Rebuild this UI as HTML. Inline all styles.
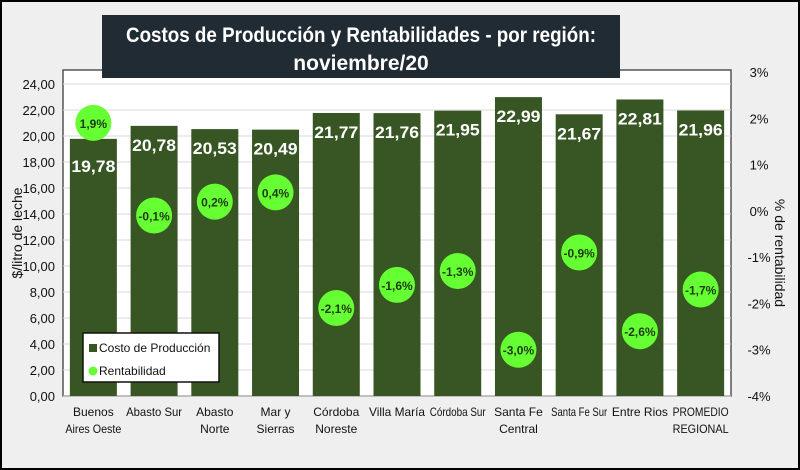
<!DOCTYPE html>
<html><head><meta charset="utf-8"><style>
html,body{margin:0;padding:0;background:#fff}
#wrap{position:relative;width:796px;height:466px;border:2px solid #000;background:#efefef;overflow:hidden}
svg text{font-family:"Liberation Sans",sans-serif}
</style></head><body>
<div id="wrap">
<svg id="chart" width="796" height="466" xmlns="http://www.w3.org/2000/svg"></svg>
</div>
<script>
const categories=[["Buenos","Aires Oeste"],["Abasto Sur"],["Abasto","Norte"],["Mar y","Sierras"],["Córdoba","Noreste"],["Villa María"],["Córdoba Sur"],["Santa Fe","Central"],["Santa Fe Sur"],["Entre Rios"],["PROMEDIO","REGIONAL"]];
const costs=[19.78,20.78,20.53,20.49,21.77,21.76,21.95,22.99,21.67,22.81,21.96];
const rent=[1.9,-0.1,0.2,0.4,-2.1,-1.6,-1.3,-3.0,-0.9,-2.6,-1.7];
const leftTicks=[0,2,4,6,8,10,12,14,16,18,20,22,24];
const rightTicks=[-4,-3,-2,-1,0,1,2,3];
const NS="http://www.w3.org/2000/svg";
const svg=document.getElementById('chart');
const off=-2;
const X0=63+off,X1=731+off,TOP=70+off,BOT=396+off;
const yL=v=>BOT-(v/24)*(BOT-84-off);
const yR=v=>BOT-((v+4)/7)*(BOT-72-off);
const cw=(X1-X0)/categories.length;
const xc=i=>X0+cw*(i+0.5);
function el(t,a,txt){const e=document.createElementNS(NS,t);for(const k in a)e.setAttribute(k,a[k]);if(txt!=null)e.textContent=txt;svg.appendChild(e);return e;}
const fmt=v=>v.toFixed(2).replace('.',',');
const pct=v=>v.toFixed(1).replace('.',',')+'%';
let p=el('rect',{x:X0,y:TOP,width:X1-X0,height:BOT-TOP,fill:'#fff',stroke:'#555','stroke-width':1.5});

leftTicks.forEach(v=>{
 let g=el('line',{x1:X0,x2:X1,y1:yL(v),y2:yL(v),stroke:'#d9d9d9','stroke-width':1});
 
 let t=el('text',{x:X0-8,y:yL(v)+5,'text-anchor':'end','font-size':13,fill:'#111'},fmt(v));
 
});
rightTicks.forEach(v=>{
 let t=el('text',{x:X1+28,y:yR(v)+5,'text-anchor':'middle','font-size':13,fill:'#111'},v+'%');
 
});
let yt=el('text',{transform:`translate(20,${(TOP+BOT)/2}) rotate(-90)`,'text-anchor':'middle','font-size':14,fill:'#111'},'$/litro de leche');

let yt2=el('text',{transform:`translate(773,${(TOP+BOT)/2+20}) rotate(90)`,'text-anchor':'middle','font-size':14,fill:'#111'},'% de rentabilidad');

costs.forEach((v,i)=>{
 let b=el('rect',{x:xc(i)-23.5,y:yL(v),width:47,height:BOT-yL(v),fill:'#375623'});
 
 let ly=yL(v)+(i===0?33:25);
 let t=el('text',{x:xc(i),y:ly,'text-anchor':'middle','font-size':17,'font-weight':'bold',fill:'#fff',textLength:44,lengthAdjust:'spacingAndGlyphs'},fmt(v));
 
});
rent.forEach((v,i)=>{
 let c=el('circle',{cx:xc(i),cy:yR(v),r:18,fill:'#66ff33'});
 
 let t=el('text',{x:xc(i),y:yR(v)+5,'text-anchor':'middle','font-size':12,'font-weight':'bold',fill:'#1e3a14'},pct(v));
 
});
categories.forEach((c,i)=>{
 c.forEach((ln,j)=>{
  let t=el('text',{x:xc(i),y:BOT+20+j*17,'text-anchor':'middle','font-size':12,fill:'#111'},ln);
  
  if(t.getComputedTextLength()>56){t.setAttribute('textLength',56);t.setAttribute('lengthAdjust','spacingAndGlyphs');}
 });
});
// legend
let lg=el('rect',{x:83+off,y:333+off,width:136,height:49,fill:'#fff',stroke:'#111','stroke-width':1.5});

let ls=el('rect',{x:89+off,y:344+off,width:8,height:8,fill:'#375623'});

let lt=el('text',{x:99+off,y:352+off,'font-size':12,fill:'#111'},'Costo de Producción');

let lc=el('circle',{cx:93+off,cy:371+off,r:4.5,fill:'#66ff33'});

let lt2=el('text',{x:99+off,y:375+off,'font-size':12,fill:'#111'},'Rentabilidad');

// title
let tb=el('rect',{x:102+off,y:15+off,width:518,height:63,fill:'#212b33'});

let t1=el('text',{x:361+off,y:42+off,'text-anchor':'middle','font-size':21,'font-weight':'bold',fill:'#fff',textLength:470,lengthAdjust:'spacingAndGlyphs'},'Costos de Producción y Rentabilidades - por región:');

let t2=el('text',{x:361+off,y:70+off,'text-anchor':'middle','font-size':21,'font-weight':'bold',fill:'#fff'},'noviembre/20');

</script>
</body></html>
